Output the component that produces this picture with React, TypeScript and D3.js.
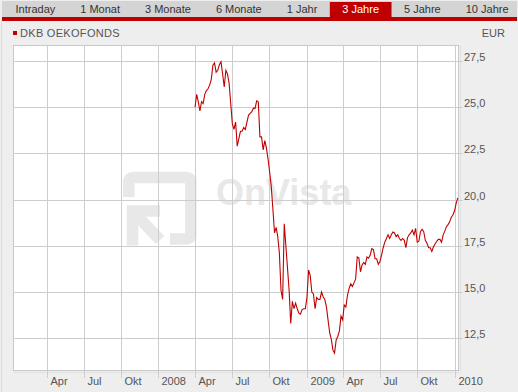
import { useEffect, useRef } from 'react'
import * as d3 from 'd3'

// Fund price (EUR), one reading every 4 days starting 1 Apr 2008
const startDate = new Date(2008, 3, 1)
const stepDays = 4
const prices = [
  25.0, 25.7, 25.3, 24.8, 25.3, 25.2, 25.7, 25.9, 26.0, 26.2,
  26.5, 27.28, 27.4, 26.9, 27.0, 27.3, 27.46, 26.8, 26.1, 27.0,
  26.8, 26.3, 25.2, 24.1, 23.8, 24.2, 22.9, 23.3, 23.7, 23.7,
  23.9, 23.8, 24.2, 24.58, 24.67, 24.76, 24.95, 24.94, 25.35, 25.3,
  23.4, 23.4, 22.7, 23.2, 22.8, 22.2, 21.5, 20.7, 19.5, 18.2,
  18.5, 18.0, 17.1, 15.1, 14.6, 18.7, 17.5, 16.3, 15.1, 13.3,
  14.5, 14.1, 14.4, 14.1, 13.86, 13.8, 14.05, 14.1, 14.1, 14.7,
  16.2, 15.9, 15.0, 14.9, 14.1, 14.7, 14.6, 14.6, 15.0, 14.75,
  14.6, 14.2, 13.5, 12.8, 12.45, 11.87, 11.7, 12.4, 12.6, 12.9,
  13.7, 13.5, 14.3, 14.2, 14.84, 15.2, 15.45, 15.3, 15.5, 15.7,
  16.9, 16.85, 16.1, 16.47, 16.6, 16.5, 16.9, 16.83, 17.0, 17.35,
  17.3, 16.8, 16.8, 16.5, 16.65, 17.0, 17.4, 17.7, 17.9, 18.1,
  17.9, 18.1, 18.25, 18.2, 18.0, 18.1, 17.9, 17.8, 17.9, 17.8,
  17.4, 17.95, 18.1, 18.2, 18.35, 18.1, 18.45, 17.7, 17.75, 18.27,
  18.4, 18.27, 17.8, 17.64, 17.4, 17.4, 17.2, 17.45, 17.6, 17.75,
  17.85, 17.85, 17.7, 18.1, 18.3, 18.54, 18.65, 18.8, 19.05, 19.17,
  19.4, 19.8, 20.1
]

const yTicks = [12.5, 15.0, 17.5, 20.0, 22.5, 25.0, 27.5]
const monthNames = ['Jan', 'Feb', 'Mär', 'Apr', 'Mai', 'Jun', 'Jul', 'Aug', 'Sep', 'Okt', 'Nov', 'Dez']
const tabs = ['Intraday', '1 Monat', '3 Monate', '6 Monate', '1 Jahr', '3 Jahre', '5 Jahre', '10 Jahre']
const activeTab = '3 Jahre'
const title = 'DKB OEKOFONDS'
const currency = 'EUR'

const W = 518
const H = 392
const FONT = 'Arial, "Liberation Sans", sans-serif'
const RED = '#c00000'

export default function App() {
  const svgRef = useRef<SVGSVGElement>(null)

  useEffect(() => {
    if (!svgRef.current) return
    const svg = d3.select(svgRef.current)
    svg.selectAll('*').remove()

    const plot = { left: 13, right: 459, top: 45, bottom: 371 }

    const x = d3
      .scaleTime()
      .domain([new Date(2007, 0, 8), new Date(2010, 0, 12)])
      .range([plot.left, plot.right])

    const y = d3
      .scaleLinear()
      .domain([10.73, 28.37])
      .range([plot.bottom, plot.top])

    const crisp = (v: number) => Math.round(v) + 0.5

    // page background
    svg.append('rect').attr('width', W).attr('height', H).attr('fill', '#eeeeee')
    svg.append('line')
      .attr('x1', 1.5).attr('x2', 1.5).attr('y1', 21).attr('y2', H)
      .attr('stroke', '#dcdcdc')

    // tab bar
    svg.append('rect').attr('x', 2).attr('y', 1).attr('width', W - 3).attr('height', 16).attr('fill', '#d4d4d4')
    svg.append('rect').attr('x', 2).attr('y', 17).attr('width', W - 3).attr('height', 4).attr('fill', RED)

    const tabG = svg.append('g')
    let tx = 3
    tabs.forEach(t => {
      const txt = tabG.append('text')
        .attr('y', 13)
        .attr('text-anchor', 'middle')
        .attr('font-family', FONT)
        .attr('font-size', 11)
        .attr('fill', t === activeTab ? '#ffffff' : '#333333')
        .text(t)
      const len = (txt.node() as SVGTextElement).getComputedTextLength()
      const w = len + 25
      if (t === activeTab) {
        tabG.insert('rect', 'text')
          .attr('x', tx).attr('y', 2).attr('width', w).attr('height', 16)
          .attr('fill', RED)
      }
      txt.attr('x', tx + w / 2)
      tx += w
    })

    // title and currency
    svg.append('rect').attr('x', 13).attr('y', 31).attr('width', 4).attr('height', 4).attr('fill', RED)
    svg.append('text')
      .attr('x', 20).attr('y', 37)
      .attr('font-family', FONT).attr('font-size', 11).attr('letter-spacing', 0.3)
      .attr('fill', '#555555')
      .text(title)
    svg.append('text')
      .attr('x', 505).attr('y', 37)
      .attr('text-anchor', 'end')
      .attr('font-family', FONT).attr('font-size', 11)
      .attr('fill', '#555555')
      .text(currency)

    // plot background with soft shadow
    svg.append('rect')
      .attr('x', plot.left + 1.5).attr('y', plot.top + 1.5)
      .attr('width', plot.right - plot.left).attr('height', plot.bottom - plot.top)
      .attr('fill', 'none').attr('stroke', '#e2e2e2')
    svg.append('rect')
      .attr('x', plot.left).attr('y', plot.top)
      .attr('width', plot.right - plot.left).attr('height', plot.bottom - plot.top)
      .attr('fill', '#ffffff')

    // watermark
    const wm = svg.append('g').attr('fill', 'none').attr('stroke', '#e8e8e8').attr('stroke-width', 11.5)
    wm.append('path').attr('d', 'M128.8,197 L128.8,182 Q128.8,177.5 133.5,177.5 L186,177.5 Q190.8,177.5 190.8,182 L190.8,234.5 Q190.8,239 186,239 L170,239')
    wm.append('path').attr('d', 'M160,211 L132.5,211 L132.5,245.5')
    wm.append('path').attr('d', 'M134,212.5 L160,240')
    svg.append('text')
      .attr('x', 216).attr('y', 205)
      .attr('font-family', FONT).attr('font-weight', 'bold').attr('font-size', 36)
      .attr('fill', '#e8e8e8')
      .text('OnVista')

    // grid
    const xTicks = d3.timeMonth.every(3)!.range(x.domain()[0], x.domain()[1])
    svg.append('g')
      .selectAll('line')
      .data(xTicks)
      .enter()
      .append('line')
      .attr('x1', d => crisp(x(d))).attr('x2', d => crisp(x(d)))
      .attr('y1', plot.top).attr('y2', plot.bottom + 7)
      .attr('stroke', '#cdcdcd')

    svg.append('g')
      .selectAll('line')
      .data(yTicks)
      .enter()
      .append('line')
      .attr('x1', plot.left).attr('x2', plot.right + 4)
      .attr('y1', d => crisp(y(d))).attr('y2', d => crisp(y(d)))
      .attr('stroke', '#cdcdcd')

    svg.append('rect')
      .attr('x', plot.left + 0.5).attr('y', plot.top + 0.5)
      .attr('width', plot.right - plot.left - 1).attr('height', plot.bottom - plot.top - 1)
      .attr('fill', 'none').attr('stroke', '#c8c8c8')

    // axis labels
    svg.append('g')
      .selectAll('text')
      .data(xTicks)
      .enter()
      .append('text')
      .attr('x', d => crisp(x(d)) + 3)
      .attr('y', 385)
      .attr('font-family', FONT).attr('font-size', 11)
      .attr('fill', '#555555')
      .text(d => (d.getMonth() === 0 ? String(d.getFullYear()) : monthNames[d.getMonth()]))

    svg.append('g')
      .selectAll('text')
      .data(yTicks)
      .enter()
      .append('text')
      .attr('x', plot.right + 5)
      .attr('y', d => Math.round(y(d)))
      .attr('font-family', FONT).attr('font-size', 11)
      .attr('fill', '#555555')
      .text(d => d.toFixed(1).replace('.', ','))

    // price line
    const data = prices.map((v, i) => ({ date: d3.timeDay.offset(startDate, i * stepDays), value: v }))
    const line = d3
      .line<{ date: Date; value: number }>()
      .x(d => x(d.date))
      .y(d => y(d.value))

    svg.append('path')
      .datum(data)
      .attr('fill', 'none')
      .attr('stroke', RED)
      .attr('stroke-width', 1.1)
      .attr('d', line)
  }, [])

  return (
    <div style={{ position: 'fixed', left: 0, top: 0 }}>
      <svg ref={svgRef} width={W} height={H} style={{ display: 'block' }} />
    </div>
  )
}
